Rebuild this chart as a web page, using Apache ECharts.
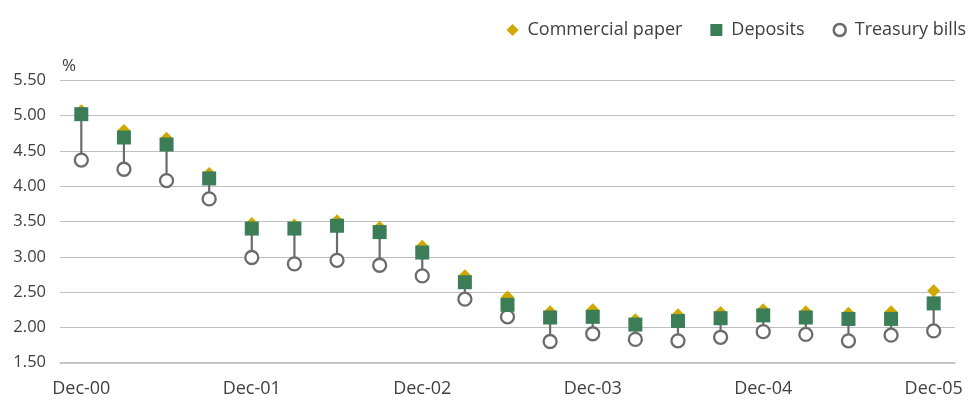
<!DOCTYPE html>
<html>
<head>
<meta charset="utf-8">
<script src="https://cdn.jsdelivr.net/npm/echarts@6/dist/echarts.min.js"></script>
<style>
  html, body { margin: 0; padding: 0; background: #fff; }
  #chart { width: 968px; height: 400px; }
</style>
</head>
<body>
<div id="chart"></div>
<script>
// Quarterly interest rates, Dec-00 to Dec-05 (%)
const quarters = [
  'Dec-00', 'Mar-01', 'Jun-01', 'Sep-01',
  'Dec-01', 'Mar-02', 'Jun-02', 'Sep-02',
  'Dec-02', 'Mar-03', 'Jun-03', 'Sep-03',
  'Dec-03', 'Mar-04', 'Jun-04', 'Sep-04',
  'Dec-04', 'Mar-05', 'Jun-05', 'Sep-05',
  'Dec-05'
];
const commercialPaper = [5.07, 4.79, 4.68, 4.18, 3.47, 3.45, 3.51, 3.42, 3.15, 2.73, 2.43, 2.22, 2.25, 2.11, 2.18, 2.21, 2.25, 2.22, 2.20, 2.22, 2.52];
const deposits        = [5.02, 4.69, 4.59, 4.11, 3.40, 3.40, 3.44, 3.35, 3.06, 2.64, 2.32, 2.14, 2.15, 2.04, 2.09, 2.13, 2.17, 2.14, 2.12, 2.12, 2.34];
const treasuryBills   = [4.37, 4.24, 4.08, 3.82, 2.99, 2.90, 2.95, 2.88, 2.73, 2.40, 2.15, 1.80, 1.91, 1.83, 1.81, 1.86, 1.94, 1.90, 1.81, 1.89, 1.95];
const yTicks = { min: 1.5, max: 5.5, step: 0.5 };

const FONT = '"Open Sans", "Noto Sans", sans-serif';
const TEXT = '#404040';
const GOLD = '#cfa800';
const GREEN = '#3b7d56';
const GREY = '#6b6b6b';

const pairs = arr => arr.map((v, i) => [i, v]);
const rangeData = quarters.map((q, i) => [
  i,
  Math.max(commercialPaper[i], deposits[i], treasuryBills[i]),
  Math.min(commercialPaper[i], deposits[i], treasuryBills[i])
]);

const chart = echarts.init(document.getElementById('chart'), null, { renderer: 'canvas' });
chart.setOption({
  animation: false,
  backgroundColor: '#fff',
  textStyle: { fontFamily: FONT },
  legend: {
    right: 2,
    top: 21,
    padding: 0,
    itemWidth: 12,
    itemHeight: 12,
    itemGap: 28,
    textStyle: { fontFamily: FONT, fontSize: 18, color: TEXT, padding: [0, 0, 0, 4] },
    data: [
      { name: 'Commercial paper', icon: 'diamond', itemStyle: { color: GOLD, borderWidth: 0 } },
      { name: 'Deposits', icon: 'rect', itemStyle: { color: GREEN, borderWidth: 0 } },
      { name: 'Treasury bills', icon: 'circle', itemStyle: { color: '#fff', borderColor: GREY, borderWidth: 2.5 } }
    ]
  },
  grid: { left: 60, right: 13, top: 80.3, bottom: 37.3, containLabel: false },
  xAxis: {
    type: 'category',
    data: quarters,
    boundaryGap: true,
    axisLine: { show: true, lineStyle: { color: '#bfbfbf', width: 1.5 } },
    axisTick: { show: false },
    axisLabel: { interval: 3, margin: 17, fontFamily: FONT, fontSize: 18, color: TEXT },
    splitLine: { show: false }
  },
  yAxis: {
    type: 'value',
    min: yTicks.min,
    max: yTicks.max,
    interval: yTicks.step,
    name: '%',
    nameLocation: 'end',
    nameGap: 6,
    nameTextStyle: { align: 'left', fontFamily: FONT, fontSize: 17, color: TEXT, padding: [0, 0, 0, 2] },
    axisLine: { show: false },
    axisTick: { show: false },
    axisLabel: { margin: 14, fontFamily: FONT, fontSize: 16.5, color: TEXT, formatter: v => v.toFixed(2) },
    splitLine: { show: true, lineStyle: { color: '#bfbfbf', width: 1.2 } }
  },
  series: [
    {
      name: 'range',
      type: 'custom',
      silent: true,
      z: 1,
      data: rangeData,
      encode: { x: 0, y: [1, 2] },
      renderItem: (params, api) => {
        const top = api.coord([api.value(0), api.value(1)]);
        const bottom = api.coord([api.value(0), api.value(2)]);
        return {
          type: 'line',
          shape: { x1: top[0], y1: top[1], x2: bottom[0], y2: bottom[1] },
          style: { stroke: GREY, lineWidth: 2.2 }
        };
      }
    },
    {
      name: 'Treasury bills',
      type: 'scatter',
      z: 2,
      symbol: 'circle',
      symbolSize: 13,
      itemStyle: { color: '#fff', borderColor: GREY, borderWidth: 2.3, opacity: 1 },
      data: pairs(treasuryBills)
    },
    {
      name: 'Commercial paper',
      type: 'scatter',
      z: 3,
      symbol: 'diamond',
      symbolSize: [13, 13],
      itemStyle: { color: GOLD, opacity: 1 },
      data: pairs(commercialPaper)
    },
    {
      name: 'Deposits',
      type: 'scatter',
      z: 4,
      symbol: 'rect',
      symbolSize: 14,
      itemStyle: { color: GREEN, opacity: 1 },
      data: pairs(deposits)
    }
  ]
});
</script>
</body>
</html>
